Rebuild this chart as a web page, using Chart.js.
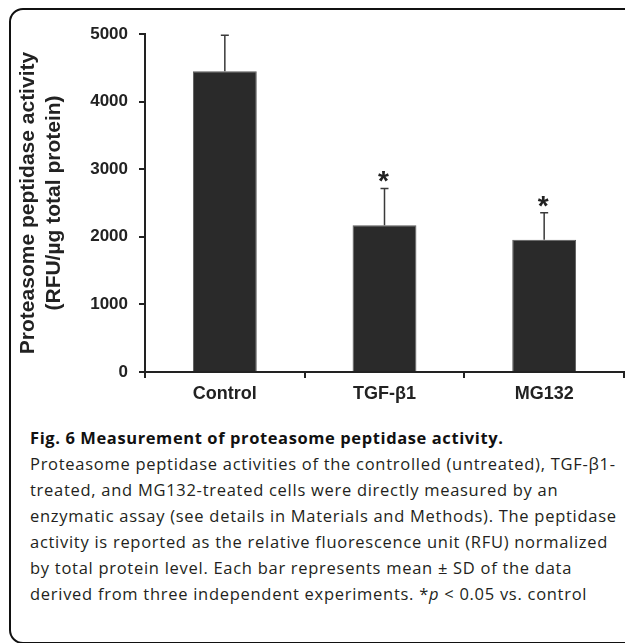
<!DOCTYPE html>
<html>
<head>
<meta charset="utf-8">
<script src="https://cdn.jsdelivr.net/npm/chart.js@4.4.1/dist/chart.umd.min.js"></script>
<style>
  html, body { margin: 0; padding: 0; background: #fff; overflow: hidden; width: 625px; height: 643px; }
  #frame { position: absolute; left: 9px; top: 8px; width: 700px; height: 632px; border: 2px solid #111; border-radius: 14px; }
  #chartBox { position: absolute; left: 0; top: 0; width: 625px; height: 410px; }
  #caption { position: absolute; left: 30px; top: 425px; font-family: "Open Sans", sans-serif; font-size: 16.5px; letter-spacing: 0.72px; line-height: 26px; color: #231f20; white-space: nowrap; }
  #caption b { font-weight: 700; color: #111; letter-spacing: 0.6px; }
</style>
</head>
<body>
<div id="frame"></div>
<div id="chartBox"><canvas id="activityChart" width="625" height="410"></canvas></div>
<div id="caption">
  <b>Fig. 6 Measurement of proteasome peptidase activity.</b><br>
  Proteasome peptidase activities of the controlled (untreated), TGF-β1-<br>
  treated, and MG132-treated cells were directly measured by an<br>
  enzymatic assay (see details in Materials and Methods). The peptidase<br>
  activity is reported as the relative fluorescence unit (RFU) normalized<br>
  by total protein level. Each bar represents mean ± SD of the data<br>
  derived from three independent experiments. *<i>p</i> &lt; 0.05 vs. control
</div>
<script>
// data
const groups = ['Control', 'TGF-β1', 'MG132'];
const meanActivity = [4450, 2170, 1955];
const sdActivity = [530, 545, 400];
const significant = [false, true, true];
const yTicks = [0, 1000, 2000, 3000, 4000, 5000];

const axisColor = '#222';
const labelFont = '"Liberation Sans", Arial, sans-serif';

// draws the upper error bar and the significance star for each bar
const errorBars = {
  id: 'errorBars',
  afterDatasetsDraw(chart) {
    const ctx = chart.ctx;
    const y = chart.scales.y;
    const meta = chart.getDatasetMeta(0);
    ctx.save();
    meta.data.forEach((bar, i) => {
      const yTop = y.getPixelForValue(meanActivity[i]);
      const yErr = y.getPixelForValue(meanActivity[i] + sdActivity[i]);
      ctx.strokeStyle = '#3a3a3a';
      ctx.lineWidth = 1.5;
      ctx.beginPath();
      ctx.moveTo(bar.x, yTop);
      ctx.lineTo(bar.x, yErr);
      ctx.moveTo(bar.x - 4, yErr);
      ctx.lineTo(bar.x + 4, yErr);
      ctx.stroke();
      if (significant[i]) {
        ctx.fillStyle = '#222';
        ctx.font = 'bold 28px ' + labelFont;
        ctx.textAlign = 'center';
        ctx.textBaseline = 'alphabetic';
        ctx.fillText('*', bar.x - 1, yErr + 2);
      }
    });
    ctx.restore();
  }
};

new Chart(document.getElementById('activityChart'), {
  type: 'bar',
  data: {
    labels: groups,
    datasets: [{
      data: meanActivity,
      backgroundColor: '#2a2a2a',
      borderColor: '#5a5a5a',
      borderWidth: 1,
      barPercentage: 0.4,
      categoryPercentage: 1.0
    }]
  },
  options: {
    responsive: false,
    animation: false,
    devicePixelRatio: 1,
    layout: { padding: { top: 34, right: 1, left: 0, bottom: 0 } },
    plugins: { legend: { display: false }, tooltip: { enabled: false } },
    scales: {
      x: {
        afterFit(s) { s.height = 38; },
        grid: { drawOnChartArea: false, drawTicks: true, tickLength: 6, color: axisColor, lineWidth: 2 },
        border: { color: axisColor, width: 2 },
        ticks: { font: { family: labelFont, size: 18, weight: 'bold' }, color: axisColor, padding: 5 }
      },
      y: {
        min: 0,
        max: 5000,
        afterFit(s) { s.width = 145; },
        afterBuildTicks(s) { s.ticks = yTicks.map(v => ({ value: v })); },
        grid: { drawOnChartArea: false, drawTicks: true, tickLength: 6, color: axisColor, lineWidth: 2 },
        border: { color: axisColor, width: 2 },
        ticks: {
          font: { family: labelFont, size: 17, weight: 'bold' },
          color: axisColor,
          padding: 11,
          callback: v => String(v)
        },
        title: {
          display: true,
          text: ['Proteasome peptidase activity', '(RFU/µg total protein)'],
          font: { family: labelFont, size: 21, weight: 'bold' },
          color: axisColor,
          padding: { top: 16, bottom: 0 }
        }
      }
    }
  },
  plugins: [errorBars]
});
</script>
</body>
</html>
